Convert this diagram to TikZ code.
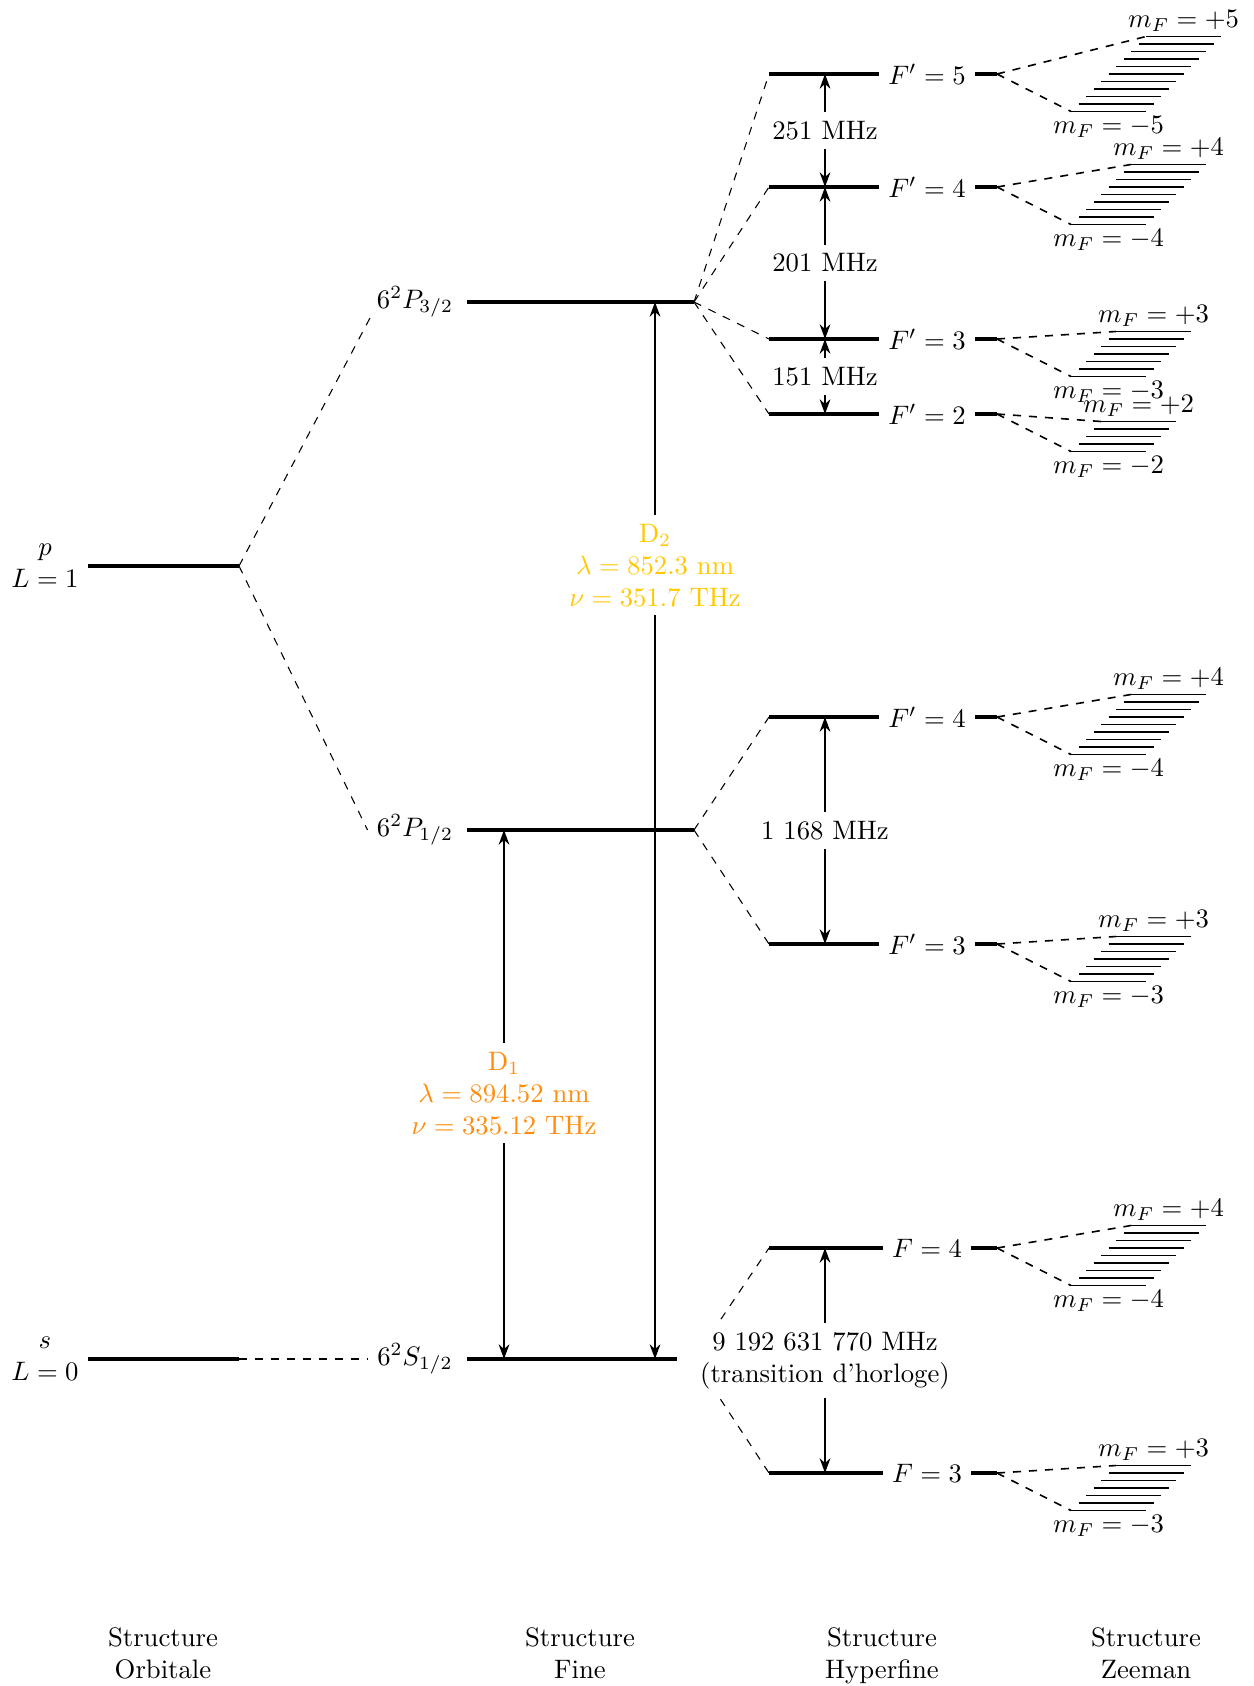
\documentclass[tikz,border=0pt]{standalone}
\usetikzlibrary{arrows.meta}
\definecolor{dtwo}{RGB}{255,200,0}
\definecolor{done}{RGB}{255,140,10}
\newcommand{\hflevel}[4]{%
  \coordinate (#1L) at (769,#2);
  \coordinate (#1A) at (825,#2);
  \node (#1lab) at (927,#2) {#3};
  \draw[level] (#1L) -- (#1lab.west);
  \coordinate (#1Z) at (997,#2);
  \draw[level] (#1lab.east) -- (#1Z);
  \pgfmathtruncatemacro\nF{2*#4}
  \foreach \i in {0,...,\nF} {
    \draw[sub] ({1071+7.5*\i},{#2+37.5-7.5*\i}) -- ++(75,0);
  }
  \coordinate (#1top) at ({1071+7.5*\nF},{#2+37.5-7.5*\nF});
  \coordinate (#1topc) at ({1071+37.5+7.5*\nF},{#2+37.5-7.5*\nF});
  \coordinate (#1bot) at (1071,{#2+37.5});
  \coordinate (#1botc) at (1108.5,{#2+37.5});
  \draw[zsplit] (#1Z) -- (#1top);
  \draw[zsplit] (#1Z) -- (#1bot);
  \node[above, inner sep=1.5pt] (#1mtop) at (#1topc) {$m_F=+#4$};
  \node[below, inner sep=1.5pt] (#1mbot) at (#1botc) {$m_F=-#4$};
}
\begin{document}
\begin{tikzpicture}[x=0.3745pt,y=-0.3745pt,
  level/.style={line width=1.5pt},
  split/.style={dashed, line width=0.4pt},
  zsplit/.style={dashed, line width=0.6pt},
  sub/.style={line width=0.45pt},
  trans/.style={line width=0.8pt, {Stealth[length=5.5pt,width=4pt]}-{Stealth[length=5.5pt,width=4pt]}},
  lab/.style={fill=white, align=center},
  title/.style={align=center, anchor=north}
]
\useasboundingbox (0,0) rectangle (1254,1686);

% orbital structure
\coordinate (pL) at (88,566); \coordinate (pR) at (239,566);
\coordinate (sL) at (88,1359); \coordinate (sR) at (239,1359);
\draw[level] (pL) -- (pR);
\draw[level] (sL) -- (sR);
\node[anchor=east, align=center] (plab) at (pL) {$p$\\$L=1$};
\node[anchor=east, align=center] (slab) at (sL) {$s$\\$L=0$};

% fine structure
\node (P32) at (415,302) {$6^2P_{3/2}$};
\node (P12) at (415,830) {$6^2P_{1/2}$};
\node (S12) at (415,1359) {$6^2S_{1/2}$};
\coordinate (P32L) at (467,302); \coordinate (P32R) at (694,302);
\coordinate (P12L) at (467,830); \coordinate (P12R) at (694,830);
\coordinate (S12L) at (467,1359); \coordinate (S12R) at (677,1359);
\coordinate (Sfork) at (694,1359);
\draw[level] (P32L) -- (P32R);
\draw[level] (P12L) -- (P12R);
\draw[level] (S12L) -- (S12R);
\draw[split] (pR) -- ([xshift=1.5pt,yshift=4.5pt]P32.south west);
\draw[split] (pR) -- (P12.west);
\draw[split] (sR) -- (S12.west);

% hyperfine + zeeman
\hflevel{a}{74}{$F'=5$}{5}
\hflevel{b}{187}{$F'=4$}{4}
\hflevel{c}{339}{$F'=3$}{3}
\hflevel{d}{414}{$F'=2$}{2}
\hflevel{e}{717}{$F'=4$}{4}
\hflevel{f}{944}{$F'=3$}{3}
\hflevel{g}{1248}{$F=4$}{4}
\hflevel{h}{1473}{$F=3$}{3}

\foreach \n in {a,b,c,d} \draw[split] (P32R) -- (\n L);
\foreach \n in {e,f} \draw[split] (P12R) -- (\n L);
\foreach \n in {g,h} \draw[split] (Sfork) -- (\n L);

\draw[trans] (aA) -- (bA) node[midway, lab] (t1) {251 MHz};
\draw[trans] (bA) -- (cA) node[midway, lab] (t2) {201 MHz};
\draw[trans] (cA) -- (dA) node[midway, lab] (t3) {151 MHz};
\draw[trans] (eA) -- (fA) node[midway, lab] (t4) {1 168 MHz};
\draw[trans] (gA) -- (hA) node[midway, lab] (t5) {9 192 631 770 MHz\\(transition d'horloge)};

% optical transitions
\coordinate (D2b) at (655,1359); \coordinate (D2t) at (655,302);
\coordinate (D1b) at (504,1359); \coordinate (D1t) at (504,830);
\draw[trans] (D2b) -- (D2t);
\draw[trans] (D1b) -- (D1t);
\node[lab, text=dtwo] (D2lab) at (655,565) {D$_2$\\$\lambda=852.3$ nm\\$\nu=351.7$ THz};
\node[lab, text=done] (D1lab) at (504,1093) {D$_1$\\$\lambda=894.52$ nm\\$\nu=335.12$ THz};

% column titles
\node[title] (c1) at (163,1618) {Structure\\Orbitale};
\node[title] (c2) at (580,1618) {Structure\\Fine};
\node[title] (c3) at (882,1618) {Structure\\Hyperfine};
\node[title] (c4) at (1146,1618) {Structure\\Zeeman};
\end{tikzpicture}
\end{document}
